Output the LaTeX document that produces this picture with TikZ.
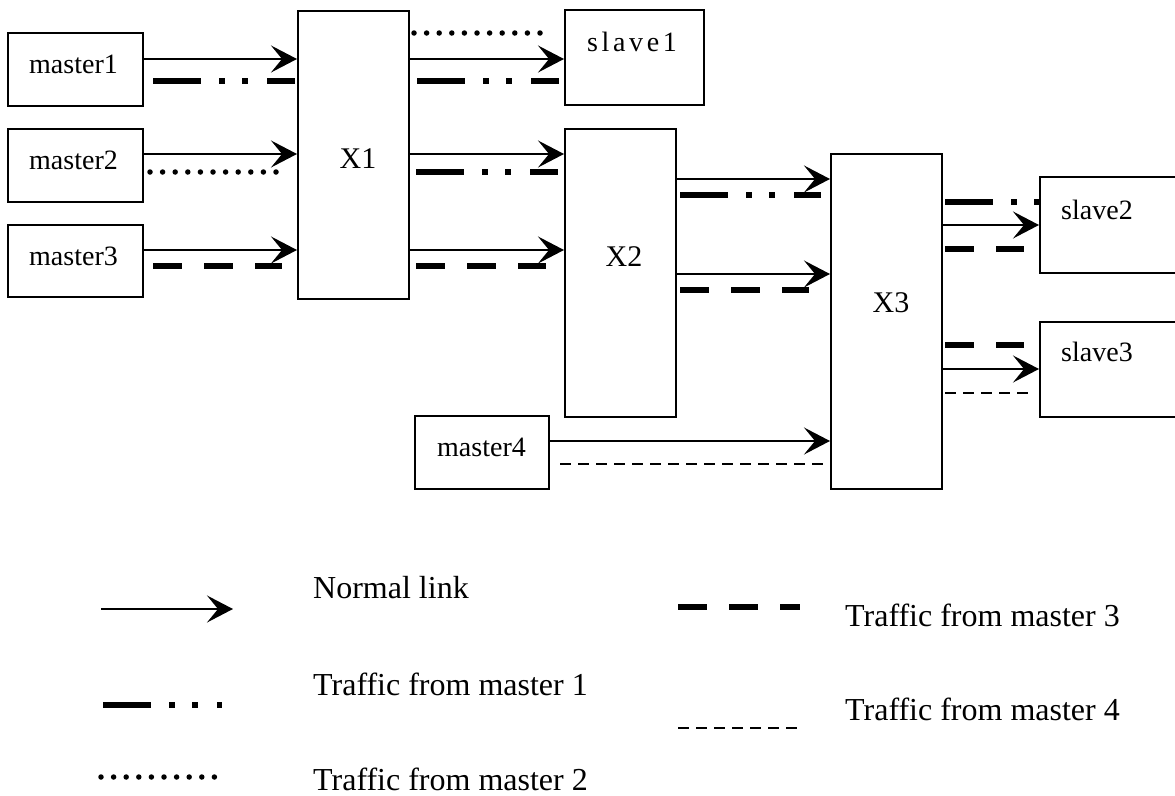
\documentclass[tikz,border=0pt]{standalone}
\usepackage{fontspec}
\setmainfont{Liberation Serif}
\newfontfamily\spacedfont[LetterSpace=13]{Liberation Serif}
\usetikzlibrary{arrows.meta}
\begin{document}
\begin{tikzpicture}[x=1pt,y=-1pt,
  box/.style={draw, line width=2pt, inner sep=0pt},
  txt/.style={inner sep=0pt, font=\fontsize{28}{30}\selectfont},
  lgtxt/.style={inner sep=0pt, anchor=west, font=\fontsize{32}{34}\selectfont},
  link/.style={line width=2pt, -{Stealth[length=26pt,width=27pt,inset=11pt]}},
  tra/.style={line width=6pt, dash pattern=on 48pt off 18pt on 6pt off 17pt on 6pt off 19pt},
  trb/.style={line width=5.5pt, line cap=round, dash pattern=on 0pt off 12.6pt},
  trc/.style={line width=6pt, dash pattern=on 29pt off 22pt},
  trd/.style={line width=2pt, dash pattern=on 11pt off 7pt}]
\useasboundingbox (0,0) rectangle (1175,795);
\begin{scope}
\clip (0,0) rectangle (1175,795);
% boxes
\node[box, minimum width=135pt, minimum height=73pt] (m1) at (75.5,69.5) {};
\node[box, minimum width=135pt, minimum height=73pt] (m2) at (75.5,165.5) {};
\node[box, minimum width=135pt, minimum height=72pt] (m3) at (75.5,261) {};
\node[box, minimum width=111pt, minimum height=288pt] (x1) at (353.5,155) {};
\node[box, minimum width=139pt, minimum height=95pt] (s1) at (634.5,57.5) {};
\node[box, minimum width=111pt, minimum height=288pt] (x2) at (620.5,273) {};
\node[box, minimum width=111pt, minimum height=335pt] (x3) at (886.5,321.5) {};
\node[box, minimum width=134pt, minimum height=73pt] (m4) at (482,452.5) {};
\node[box, minimum width=160pt, minimum height=96pt] (s2) at (1120,225) {};
\node[box, minimum width=160pt, minimum height=95pt] (s3) at (1120,369.5) {};
\end{scope}
% texts
\node[txt] (m1t) at (73.5,64) {master1};
\node[txt] (m2t) at (73.5,160) {master2};
\node[txt] (m3t) at (73.5,256) {master3};
\node[txt] (m4t) at (481.5,447.5) {master4};
\node[txt, font=\fontsize{30}{32}\selectfont] (x1t) at (358,159) {X1};
\node[txt, font=\fontsize{30}{32}\selectfont] (x2t) at (624,257) {X2};
\node[txt, font=\fontsize{30}{32}\selectfont] (x3t) at (891,303) {X3};
\node[txt, font=\fontsize{28}{30}\spacedfont] (s1t) at (632,42) {slave1};
\node[txt, anchor=west] (s2t) at (1061,210) {slave2};
\node[txt, anchor=west] (s3t) at (1061,352) {slave3};
% master1..3 -> X1
\draw[link] (m1.east |- 0,59) -- (x1.west |- 0,59);
\draw[tra] ([xshift=9pt]m1.east |- 0,81) -- ([xshift=-2pt]x1.west |- 0,81);
\draw[link] (m2.east |- 0,154) -- (x1.west |- 0,154);
\draw[trb] ([xshift=6pt]m2.east |- 0,172) -- ([xshift=-10pt]x1.west |- 0,172);
\draw[link] (m3.east |- 0,250) -- (x1.west |- 0,250);
\draw[trc] ([xshift=9pt]m3.east |- 0,266) -- ([xshift=-15pt]x1.west |- 0,266);
% X1 -> slave1
\draw[trb] ([xshift=4pt]x1.east |- 0,33) -- ([xshift=-11.5pt]s1.west |- 0,33);
\draw[link] (x1.east |- 0,59) -- (s1.west |- 0,59);
\draw[tra] ([xshift=7pt]x1.east |- 0,81) -- ([xshift=-5pt]s1.west |- 0,81);
% X1 -> X2
\draw[link] (x1.east |- 0,154) -- (x2.west |- 0,154);
\draw[tra] ([xshift=6pt]x1.east |- 0,172) -- ([xshift=-6pt]x2.west |- 0,172);
\draw[link] (x1.east |- 0,250) -- (x2.west |- 0,250);
\draw[trc] ([xshift=6pt]x1.east |- 0,266) -- ([xshift=-18pt]x2.west |- 0,266);
% X2 -> X3
\draw[link] (x2.east |- 0,179) -- (x3.west |- 0,179);
\draw[tra] ([xshift=3pt]x2.east |- 0,195) -- ([xshift=-9pt]x3.west |- 0,195);
\draw[link] (x2.east |- 0,274) -- (x3.west |- 0,274);
\draw[trc] ([xshift=3pt]x2.east |- 0,290) -- ([xshift=-21pt]x3.west |- 0,290);
% master4 -> X3
\draw[link] (m4.east |- 0,441) -- (x3.west |- 0,441);
\draw[trd] ([xshift=10pt]m4.east |- 0,464) -- ([xshift=-6pt]x3.west |- 0,464);
% X3 -> slave2
\draw[tra] ([xshift=2pt]x3.east |- 0,202) -- (s2.west |- 0,202);
\draw[link] (x3.east |- 0,225) -- (s2.west |- 0,225);
\draw[trc] ([xshift=2pt]x3.east |- 0,249) -- ([xshift=-15pt]s2.west |- 0,249);
% X3 -> slave3
\draw[trc] ([xshift=2pt]x3.east |- 0,345) -- ([xshift=-15pt]s3.west |- 0,345);
\draw[link] (x3.east |- 0,369) -- (s3.west |- 0,369);
\draw[trd] ([xshift=2pt]x3.east |- 0,393) -- ([xshift=-10pt]s3.west |- 0,393);
% legend
\coordinate (la) at (101,609); \coordinate (lb) at (233,609);
\coordinate (lc) at (103,705); \coordinate (ld) at (222,705);
\coordinate (le) at (101,777); \coordinate (lf) at (216.5,777);
\coordinate (lg) at (678,607); \coordinate (lh) at (800,607);
\coordinate (li) at (678,728); \coordinate (lj) at (800,728);
\draw[link] (la) -- (lb);
\draw[tra] (lc) -- (ld);
\draw[trb] (le) -- (lf);
\draw[trc] (lg) -- (lh);
\draw[trd] (li) -- (lj);
\node[lgtxt] (t1) at (313,588) {Normal link};
\node[lgtxt] (t2) at (313,684) {Traffic from master 1};
\node[lgtxt] (t3) at (313,779) {Traffic from master 2};
\node[lgtxt] (t4) at (845,615) {Traffic from master 3};
\node[lgtxt] (t5) at (845,709) {Traffic from master 4};
\end{tikzpicture}
\end{document}
